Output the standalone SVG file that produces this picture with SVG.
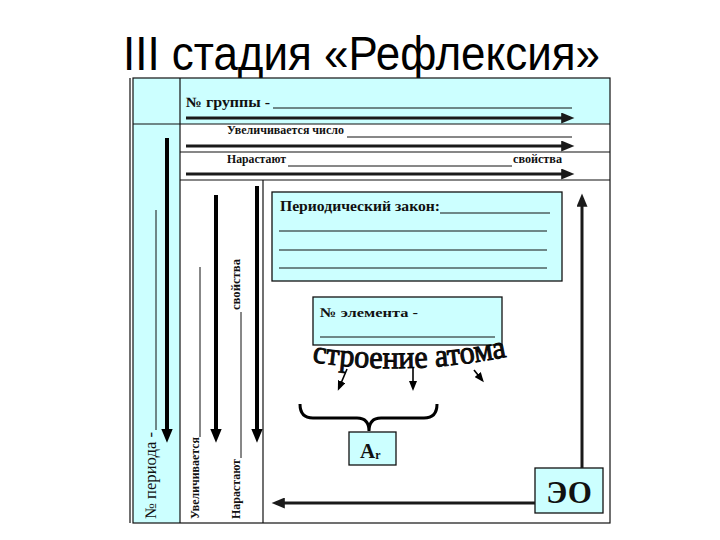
<svg xmlns="http://www.w3.org/2000/svg" width="720" height="540" viewBox="0 0 720 540">
<style>
.lbl{font-family:"Liberation Serif","Times New Roman",serif;font-weight:bold;fill:#111}
.reg{font-family:"Liberation Serif","Times New Roman",serif;fill:#111}
.title{font-family:"Liberation Sans",Arial,sans-serif;fill:#000}
.cy{fill:#ccffff}
.box{fill:#ccffff;stroke:#111;stroke-width:1.3}
.grid{stroke:#111;stroke-width:1.2;fill:none}
.ul{stroke:#111;stroke-width:1;fill:none}
.arr{stroke:#1a1a1a;stroke-width:3;fill:none}
.varr{stroke:#000;stroke-width:4;fill:none}
.thin{stroke:#000;stroke-width:1.6;fill:none}
</style>
<defs>
<marker id="ah" viewBox="0 0 12 10" refX="8" refY="5" markerWidth="14" markerHeight="11" markerUnits="userSpaceOnUse" orient="auto"><path d="M0,0 L12,5 L0,10 z" fill="#1a1a1a"/></marker>
<marker id="ahv" viewBox="0 0 12 10" refX="8" refY="5" markerWidth="14" markerHeight="12" markerUnits="userSpaceOnUse" orient="auto"><path d="M0,0 L12,5 L0,10 z" fill="#000"/></marker>
<marker id="ahs" viewBox="0 0 10 8" refX="7" refY="4" markerWidth="10" markerHeight="8" markerUnits="userSpaceOnUse" orient="auto"><path d="M0,0 L10,4 L0,8 z" fill="#000"/></marker>
</defs>
<rect width="720" height="540" fill="#fff"/>
<g id="title"><text class="title" x="123" y="70" font-size="48" textLength="477" lengthAdjust="spacingAndGlyphs">III стадия «Рефлексия»</text></g>
<g id="frame">
<rect class="cy" x="133" y="78" width="477" height="46"/>
<rect class="cy" x="133" y="124" width="47" height="399"/>
<rect class="grid" x="133" y="78" width="477" height="445"/>
<line class="grid" x1="130" y1="78" x2="130" y2="523"/>
<line class="grid" x1="180" y1="78" x2="180" y2="523"/>
<line class="grid" x1="133" y1="124" x2="610" y2="124"/>
<line class="grid" x1="180" y1="152" x2="610" y2="152"/>
<line class="grid" x1="180" y1="180" x2="610" y2="180"/>
<line class="grid" x1="263" y1="180" x2="263" y2="523"/>
</g>
<g id="group-row">
<text class="lbl" x="186" y="107" font-size="14" textLength="84" lengthAdjust="spacingAndGlyphs">№ группы -</text>
<line class="ul" x1="273" y1="108" x2="572" y2="108"/>
</g>
<g id="increase-row">
<text class="lbl" x="227" y="134" font-size="11.5" textLength="117" lengthAdjust="spacingAndGlyphs">Увеличивается число</text>
<line class="ul" x1="347" y1="137" x2="572" y2="137"/>
</g>
<g id="grow-row">
<text class="lbl" x="227" y="163" font-size="11.5" textLength="59" lengthAdjust="spacingAndGlyphs">Нарастают</text>
<line class="ul" x1="288" y1="166" x2="512" y2="166"/>
<text class="lbl" x="513" y="163" font-size="11.5" textLength="49" lengthAdjust="spacingAndGlyphs">свойства</text>
</g>
<g id="period-col">
<text class="reg" transform="translate(156,519) rotate(-90)" font-size="16" textLength="87" lengthAdjust="spacingAndGlyphs">№ периода -</text>
<line class="ul" x1="156" y1="430" x2="156" y2="210"/>
</g>
<g id="increase-col">
<text class="lbl" transform="translate(199,519) rotate(-90)" font-size="11.5" textLength="82" lengthAdjust="spacingAndGlyphs">Увеличивается</text>
<line class="ul" x1="200" y1="437" x2="200" y2="267"/>
</g>
<g id="grow-col">
<text class="lbl" transform="translate(240,519) rotate(-90)" font-size="11.5" textLength="60" lengthAdjust="spacingAndGlyphs">Нарастают</text>
<line class="ul" x1="241" y1="458" x2="241" y2="312"/>
<text class="lbl" transform="translate(240,310) rotate(-90)" font-size="11.5" textLength="51" lengthAdjust="spacingAndGlyphs">свойства</text>
</g>
<g id="law">
<rect class="box" x="272" y="192" width="290" height="89"/>
<text class="lbl" x="280" y="211" font-size="14" textLength="160" lengthAdjust="spacingAndGlyphs">Периодический закон:</text>
<line class="ul" x1="440" y1="213" x2="550" y2="213"/>
<line class="ul" x1="279" y1="231" x2="547" y2="231"/>
<line class="ul" x1="279" y1="250" x2="547" y2="250"/>
<line class="ul" x1="279" y1="268" x2="547" y2="268"/>
</g>
<g id="element">
<rect class="box" x="313" y="297" width="189" height="48"/>
<text class="lbl" x="320" y="317" font-size="13.5" textLength="98" lengthAdjust="spacingAndGlyphs">№ элемента -</text>
<line class="ul" x1="320" y1="337" x2="495" y2="337"/>
</g>
<g id="structure">
<path id="wa" d="M312,362 Q410,377 510,356" fill="none"/>
<text class="reg" font-size="32" stroke="#000" stroke-width="0.9"><textPath href="#wa" textLength="196" lengthAdjust="spacingAndGlyphs">строение атома</textPath></text>
</g>
<g id="ar">
<rect class="box" x="349" y="432" width="47" height="33"/>
<text class="lbl" x="360" y="458" font-size="21">A<tspan font-size="12" dy="1">r</tspan></text>
</g>
<g id="eo">
<rect class="box" x="535" y="468" width="68" height="45"/>
<text class="lbl" x="569" y="503" font-size="31" text-anchor="middle">ЭО</text>
</g>
<g id="connectors">
<line class="arr" x1="186" y1="118" x2="570" y2="118" marker-end="url(#ah)"/>
<line class="arr" x1="186" y1="146" x2="570" y2="146" marker-end="url(#ah)"/>
<line class="arr" x1="186" y1="174" x2="570" y2="174" marker-end="url(#ah)"/>
<line class="varr" x1="167" y1="138" x2="167" y2="438" marker-end="url(#ahv)"/>
<line class="varr" x1="216" y1="195" x2="216" y2="438" marker-end="url(#ahv)"/>
<line class="varr" x1="257" y1="186" x2="257" y2="438" marker-end="url(#ahv)"/>
<line class="thin" x1="347" y1="369" x2="339" y2="388" marker-end="url(#ahs)"/>
<line class="thin" x1="413" y1="368" x2="413" y2="388" marker-end="url(#ahs)"/>
<line class="thin" x1="474" y1="370" x2="482" y2="380" marker-end="url(#ahs)"/>
<path d="M300,404 Q300,418 313,418 L357,418 Q369,418 369,431 Q369,418 381,418 L424,418 Q437,418 437,404" stroke="#000" stroke-width="3" fill="none"/>
<line class="arr" x1="582" y1="468" x2="582" y2="198" marker-end="url(#ah)"/>
<line class="arr" x1="535" y1="503" x2="276" y2="503" marker-end="url(#ah)"/>
</g>
</svg>
